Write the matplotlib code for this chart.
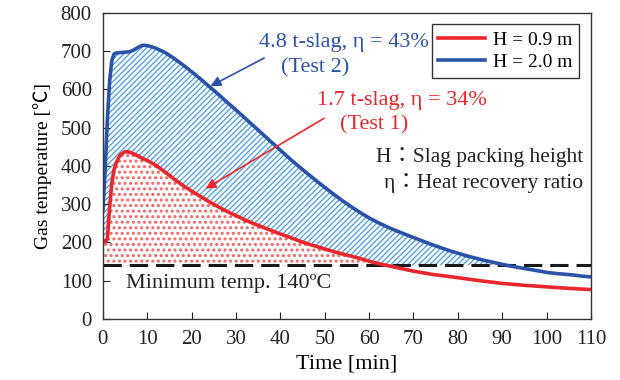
from matplotlib import pyplot as plt
import matplotlib as mpl
import numpy as np

# Test 2 (H = 2.0 m)
time_blue = [0, 0.5, 1, 1.5, 2, 2.5, 3, 4, 5, 6, 7, 8, 9, 10, 11, 12, 14, 16, 18, 20,
             22, 24, 26, 28, 30, 32, 34, 36, 38, 40, 42, 44, 46, 48, 50, 52, 54, 56, 58,
             60, 62, 64, 66, 68, 70, 72, 74, 76, 78, 80, 82, 84, 86, 88, 90, 92, 94,
             96, 98, 100, 102, 104, 106, 108, 110]
temp_blue = [285, 390, 520, 620, 675, 692, 695, 696, 697, 698, 703, 710, 715, 714, 711, 707,
             696, 681, 664, 646, 627, 607, 587, 566, 546, 525, 504, 483, 462, 441, 420, 400,
             381, 362, 344, 326, 309, 293, 278, 264, 252, 241, 231, 222, 213, 204, 195, 187,
             179, 172, 165, 159, 153, 148, 143, 138, 134, 130, 126, 122, 119, 117, 115, 112, 110]

# Test 1 (H = 0.9 m)
time_red = [0, 0.5, 1, 1.5, 2, 2.5, 3, 3.5, 4, 5, 6, 7, 8, 9, 10, 12, 14, 16, 18, 20,
            22, 24, 26, 28, 30, 32, 34, 36, 38, 40, 42, 44, 46, 48, 50, 52, 54, 56, 58,
            60, 62, 64, 66, 68, 70, 72, 74, 76, 78, 80, 85, 90, 95, 100, 105, 110]
temp_red = [200, 203, 208, 290, 355, 390, 408, 420, 430, 437, 436, 431, 425, 419, 414, 401,
            384, 366, 349, 334, 320, 306, 293, 281, 270, 259, 249, 240, 231, 222, 214, 205,
            197, 190, 183, 176, 170, 164, 158, 151, 145, 140, 135, 130, 125, 121, 117, 114,
            111, 108, 100, 93, 88, 84, 80, 77]

min_temp = 140
x_ticks = np.arange(0, 111, 10)
y_ticks = np.arange(0, 801, 100)

RED = '#e8262b'
BLUE = '#2a52a6'
SERIF = ['Liberation Serif', 'Noto Sans CJK JP', 'DejaVu Sans']

plt.rcParams['font.family'] = SERIF

fig = plt.figure(figsize=(6.2, 3.8), dpi=100)
ax = fig.add_axes([0.166, 0.1605, 0.787, 0.806])

# shaded regions
t_fine = np.linspace(0, 110, 1101)
red_f = np.interp(t_fine, time_red, temp_red)
blue_f = np.interp(t_fine, time_blue, temp_blue)
lower_blue = np.maximum(red_f, min_temp)

with mpl.rc_context({'hatch.linewidth': 0.9}):
    stripes = ax.fill_between(t_fine, lower_blue, blue_f, where=blue_f > lower_blue,
                              interpolate=True, facecolor='none', edgecolor='#4a9be0',
                              hatch='//////', linewidth=0)
with mpl.rc_context({'hatch.linewidth': 1.4}):
    dots = ax.fill_between(t_fine, min_temp, red_f, where=red_f > min_temp, interpolate=True,
                           facecolor='none', edgecolor='#f26262', hatch='...', linewidth=0)
if hasattr(stripes, 'set_hatch_linewidth'):
    stripes.set_hatch_linewidth(0.9)
    dots.set_hatch_linewidth(1.4)

ax.plot([0, 110], [min_temp, min_temp], color='#1a1a1a', lw=2.2, dashes=(6, 2.6))
ax.plot(time_red, temp_red, color=RED, lw=2.6, label='H = 0.9 m')
ax.plot(time_blue, temp_blue, color=BLUE, lw=2.6, label='H = 2.0 m')

ax.set_xlim(0, 110)
ax.set_ylim(0, 800)
ax.set_xticks(x_ticks)
ax.set_yticks(y_ticks)
ax.tick_params(direction='in', length=5, width=0.8, labelsize=15, colors='#222222', pad=8)
for spine in ax.spines.values():
    spine.set_linewidth(1.0)
    spine.set_color('#333333')

ax.set_xlabel('Time [min]', fontsize=16, labelpad=4)
ax.set_ylabel('Gas temperature [\u2103]', fontsize=14, labelpad=6)

# annotations
ax.text(54.3, 721, '4.8 t-slag, \u03b7 = 43%', color=BLUE, fontsize=16, ha='center', va='center')
ax.text(47.8, 656, '(Test 2)', color=BLUE, fontsize=16, ha='center', va='center')
ax.annotate('', xy=(23.7, 605), xytext=(36.9, 685),
            arrowprops=dict(arrowstyle='-|>', color=BLUE, lw=1.2, mutation_scale=15))

ax.text(67.4, 572, '1.7 t-slag, \u03b7 = 34%', color=RED, fontsize=16, ha='center', va='center')
ax.text(61.1, 507, '(Test 1)', color=RED, fontsize=16, ha='center', va='center')
ax.annotate('', xy=(22.6, 337), xytext=(50.4, 528),
            arrowprops=dict(arrowstyle='-|>', color=RED, lw=1.2, mutation_scale=15))

ax.text(108.2, 423, 'H\uff1aSlag packing height', color='#222222', fontsize=15.5,
        ha='right', va='center')
ax.text(108.2, 355, '\u03b7\uff1aHeat recovery ratio', color='#222222', fontsize=15.5,
        ha='right', va='center')
ax.text(5.3, 93, 'Minimum temp. 140\u00baC', color='#222222', fontsize=16,
        ha='left', va='center')

leg = ax.legend(loc='upper right', fontsize=14, frameon=True, fancybox=False,
                edgecolor='black', handlelength=2.4, borderaxespad=0.6, borderpad=0.35,
                labelspacing=0.25, handletextpad=0.4)
leg.get_frame().set_linewidth(1.0)

fig.savefig('out.png', dpi=100)
